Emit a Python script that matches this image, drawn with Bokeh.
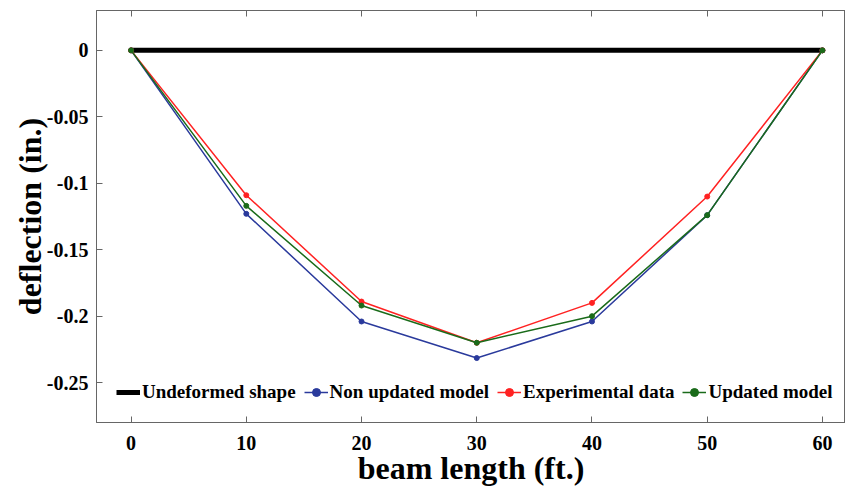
from bokeh.plotting import figure
from bokeh.models import FixedTicker, LinearAxis, Range1d, Legend, LegendItem
from bokeh.embed import file_html
from bokeh.resources import INLINE

beam_x = [0, 10, 20, 30, 40, 50, 60]
undeformed = [0, 0, 0, 0, 0, 0, 0]
non_updated = [0, -0.123, -0.204, -0.2315, -0.204, -0.124, 0]
experimental = [0, -0.109, -0.189, -0.220, -0.190, -0.110, 0]
updated = [0, -0.117, -0.192, -0.220, -0.200, -0.124, 0]

x_ticks = [0, 10, 20, 30, 40, 50, 60]
y_ticks = [0, -0.05, -0.1, -0.15, -0.2, -0.25]
y_tick_labels = ["0", "-0.05", "-0.1", "-0.15", "-0.2", "-0.25"]

FONT = "Liberation Serif"

p = figure(output_backend="svg", toolbar_location=None,
           frame_width=749, frame_height=412,
           x_range=Range1d(-3, 62), y_range=Range1d(-0.28, 0.03),
           min_border_left=96, min_border_right=0, min_border_top=10, min_border_bottom=0)
p.background_fill_color = "white"
p.border_fill_color = "white"
p.outline_line_color = "#666666"
p.outline_line_width = 1
p.grid.visible = False

# data lines
r_und = p.line(beam_x, undeformed, line_color="black", line_width=5)
r_non = p.line(beam_x, non_updated, line_color="#2a3a9c", line_width=1.5)
r_non_m = p.scatter(beam_x, non_updated, size=5, color="#2a3a9c")
r_exp = p.line(beam_x, experimental, line_color="#ff2222", line_width=1.5)
r_exp_m = p.scatter(beam_x, experimental, size=5, color="#ff2222")
r_upd = p.line(beam_x, updated, line_color="#1a6b1a", line_width=1.5)
r_upd_m = p.scatter(beam_x, updated, size=5, color="#1a6b1a")

def style_axis(ax):
    ax.major_tick_in = 6
    ax.major_tick_out = 0
    ax.minor_tick_in = 0
    ax.minor_tick_out = 0
    ax.axis_line_color = "#666666"
    ax.major_tick_line_color = "#666666"
    ax.major_label_text_font = FONT
    ax.major_label_text_font_style = "bold"
    ax.major_label_text_font_size = "20px"
    ax.major_label_text_color = "black"
    ax.axis_label_text_font = FONT
    ax.axis_label_text_font_style = "bold"
    ax.axis_label_text_font_size = "32px"
    ax.axis_label_text_color = "black"

xa = p.xaxis[0]
ya = p.yaxis[0]
style_axis(xa)
style_axis(ya)
xa.ticker = FixedTicker(ticks=x_ticks)
ya.ticker = FixedTicker(ticks=y_ticks)
ya.major_label_overrides = {t: l for t, l in zip(y_ticks, y_tick_labels)}
xa.axis_label = "beam length (ft.)"
ya.axis_label = "deflection (in.)"
xa.major_label_standoff = 13
xa.axis_label_standoff = -3
ya.major_label_standoff = 8
ya.axis_label_standoff = -4

top = LinearAxis(ticker=FixedTicker(ticks=x_ticks))
style_axis(top)
top.major_label_overrides = {t: "" for t in x_ticks}
top.major_label_standoff = 0
top.major_label_text_font_size = "1px"
p.add_layout(top, "above")

legend = Legend(items=[
    LegendItem(label="Undeformed shape", renderers=[r_und]),
    LegendItem(label="Non updated model", renderers=[r_non, r_non_m]),
    LegendItem(label="Experimental data", renderers=[r_exp, r_exp_m]),
    LegendItem(label="Updated model", renderers=[r_upd, r_upd_m]),
], orientation="horizontal", location=(20, 19))
legend.label_text_font = FONT
legend.label_text_font_style = "bold"
legend.label_text_font_size = "19px"
legend.label_text_color = "black"
legend.glyph_width = 24
legend.label_standoff = 2
legend.spacing = 8
legend.padding = 2
legend.margin = 0
legend.border_line_color = None
legend.background_fill_color = "white"
legend.background_fill_alpha = 1
p.add_layout(legend)

open("out.html", "w").write(file_html(p, INLINE))
